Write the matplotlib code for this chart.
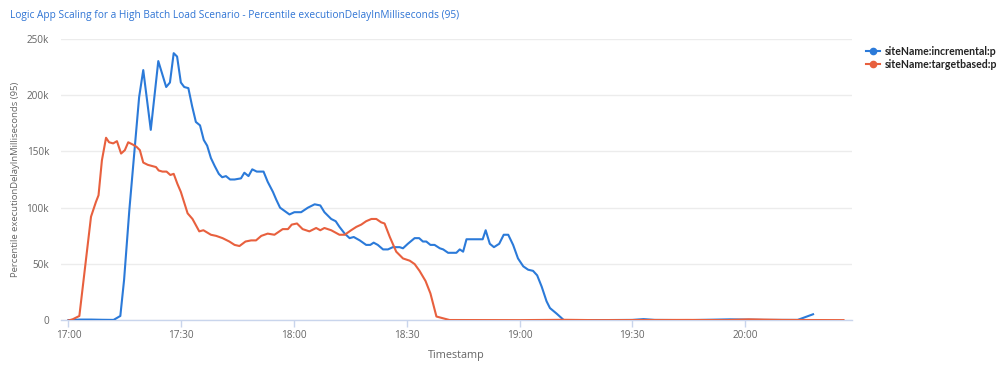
import numpy as np
import matplotlib

matplotlib.use('Agg')
import matplotlib.pyplot as plt
from matplotlib.lines import Line2D

plt.rcParams['font.family'] = ['Open Sans', 'DejaVu Sans']

# minutes after 17:00, values in k (thousands of ms)
incr_min = [0, 3, 6, 9, 12, 13.8, 14.8, 16.2, 18.8, 19.9, 21.9, 23.9, 26.0, 27.0, 28.0, 28.9, 29.9,
            30.8, 31.9, 32.9, 33.9, 35.0, 36.0, 36.9, 37.9, 38.9, 40.0, 40.9, 41.9, 43.0, 44.2, 45.9,
            46.8, 47.9, 48.9, 50.1, 51.9, 53.0, 54.4, 55.3, 56.3, 58.8, 60.1, 61.9, 63.7, 65.5, 67.0,
            68.1, 69.9, 71.1, 72.1, 73.5, 74.8, 75.9, 77.5, 79.2, 80.3, 81.2, 82.3, 83.7, 85.0, 86.3,
            88.1, 89.0, 90.3, 92.1, 93.3, 94.3, 95.2, 96.3, 97.4, 98.8, 99.7, 101.0, 103.2, 104.1,
            105.0, 105.9, 107.6, 110.2, 111.0, 112.1, 113.2, 114.6, 115.8, 117.0, 118.3, 119.6, 121.0,
            122.3, 123.6, 124.7, 125.9, 127.2, 128.1, 129.9, 131.8, 140, 150, 153, 156, 165, 176,
            185, 194, 198.1]
incr_val = [0.3, 0.8, 0.8, 0.6, 0.5, 4, 36, 98, 198, 222, 169, 230, 207, 211, 237, 234, 211,
            207, 206, 190, 176, 173, 160, 155, 144, 137, 130, 127, 128, 125, 125, 126,
            131, 128, 134, 132, 132, 123, 114, 107, 100, 94, 96, 96, 100, 103, 102,
            96, 90, 88, 83, 77, 73, 74, 71, 67, 67, 69, 67, 63, 63, 65,
            65, 64, 68, 73, 73, 70, 70, 67, 67, 64, 63, 60, 60, 63,
            61, 72, 72, 72, 80, 68, 65, 68, 76, 76, 67, 55, 48,
            45, 44, 40, 30, 17, 11, 6, 0.3, 0.3, 0.5, 1.2, 0.5, 0.3, 1.0,
            0.5, 0.5, 5.5]

tgt_min = [0, 1.1, 2.9, 6.0, 7.3, 8.0, 8.9, 10.0, 10.8, 11.9, 12.9, 14.0, 15.0, 15.9, 17.1, 18.1,
           19.0, 19.9, 21.1, 22.2, 23.3, 24.0, 25.0, 26.1, 27.1, 28.0, 29.0, 29.9, 31.7, 33.0, 34.8,
           35.9, 37.9, 39.3, 41.0, 42.8, 44.2, 45.5, 47.1, 48.6, 49.9, 51.3, 53.0, 54.8, 57.0, 58.4,
           59.4, 60.8, 62.3, 64.1, 65.9, 67.0, 68.1, 69.9, 72.1, 73.5, 75.2, 76.6, 77.9, 79.2, 80.6,
           81.9, 83.2, 84.1, 85.5, 87.2, 89.0, 90.8, 92.1, 93.4, 95.0, 96.3, 97.9, 101.4, 120, 132,
           140, 165, 175, 181, 190, 206.2]
tgt_val = [0, 1, 4, 92, 105, 111, 142, 162, 158, 157, 159, 148, 151, 158, 156, 154,
           151, 140, 138, 137, 136, 133, 132, 132, 129, 130, 121, 114, 95, 90, 79,
           80, 76, 75, 73, 70, 67, 66, 70, 71, 71, 75, 77, 76, 81, 81,
           85, 86, 81, 79, 82, 80, 82, 80, 76, 76, 80, 83, 85, 88, 90,
           90, 87, 86, 74, 61, 55, 53, 50, 44, 35, 24, 3.5, 0.4, 0.3, 0.6,
           0.3, 0.5, 0.3, 1.0, 0.5, 0.3]

tick_min = [0, 30, 60, 90, 120, 150, 180]
tick_lbl = ['17:00', '17:30', '18:00', '18:30', '19:00', '19:30', '20:00']
y_ticks = [0, 50000, 100000, 150000, 200000, 250000]
y_lbl = ['0', '50k', '100k', '150k', '200k', '250k']

blue = '#2b7ad9'
red = '#e8603e'
grey = '#666666'

fig = plt.figure(figsize=(9.99, 3.65), dpi=100)
ax = fig.add_axes([0.061, 0.122, 0.792, 0.7725])

ax.plot(incr_min, np.array(incr_val) * 1000, color=blue, lw=1.5, zorder=3)
ax.plot(tgt_min, np.array(tgt_val) * 1000, color=red, lw=1.5, zorder=3)

ax.set_xlim(-2, 208.5)
ax.set_ylim(0, 250000)
ax.set_xticks(tick_min)
ax.set_xticklabels(tick_lbl)
ax.set_yticks(y_ticks)
ax.set_yticklabels(y_lbl)
ax.grid(axis='y', color='#ececec', lw=1)
ax.set_axisbelow(True)
for s in ['top', 'right', 'left']:
    ax.spines[s].set_visible(False)
ax.spines['bottom'].set_color('#c9d5ec')
ax.spines['bottom'].set_linewidth(1)
ax.tick_params(axis='x', colors='#c9d5ec', length=5, width=1, labelcolor=grey, labelsize=7.2, pad=2)
ax.tick_params(axis='y', length=0, labelcolor=grey, labelsize=7.2, pad=8.5)

ax.set_xlabel('Timestamp', fontsize=7.8, color=grey, labelpad=6)
ax.set_ylabel('Percentile executionDelayInMilliseconds (95)', fontsize=6.8, color=grey, labelpad=5)

fig.text(0.01, 0.958, 'Logic App Scaling for a High Batch Load Scenario - Percentile executionDelayInMilliseconds (95)',
         color='#2f74d4', fontsize=7.3, ha='left', va='center')

handles = [Line2D([], [], color=blue, lw=1.5, marker='o', markersize=4.5),
           Line2D([], [], color=red, lw=1.5, marker='o', markersize=4.5)]
fig.legend(handles, ['siteName:incremental:p', 'siteName:targetbased:p'],
           loc='upper left', bbox_to_anchor=(0.867, 0.875), frameon=False,
           prop={'family': 'Lato', 'weight': 'bold', 'size': 7.6}, handlelength=1.3, handletextpad=0.45,
           labelspacing=0.2, borderaxespad=0, borderpad=0, labelcolor='#222222')

fig.savefig('out.png', dpi=100)
